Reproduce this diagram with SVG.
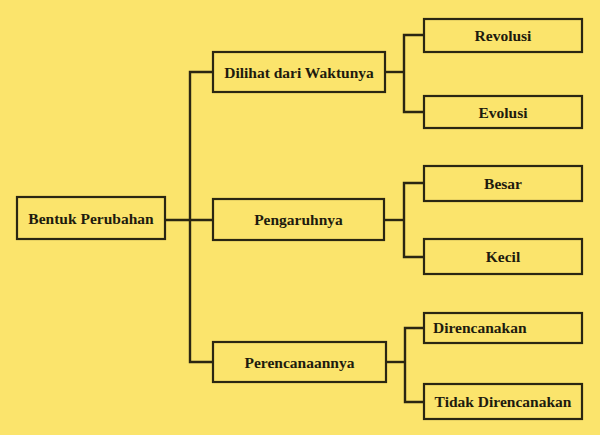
<svg xmlns="http://www.w3.org/2000/svg" width="600" height="435" viewBox="0 0 600 435">
<style>
.box{fill:#FBE46C;stroke:#2a2612;stroke-width:2.2}
.t{font-family:"Liberation Serif","Times New Roman",serif;font-weight:bold;font-size:15.5px;fill:#1e1b0e;text-anchor:middle}
.l{text-anchor:start}
.c{fill:none;stroke:#2a2612;stroke-width:2.4}
</style>
<rect x="0" y="0" width="600" height="435" fill="#FBE46C"/>
<g id="connectors">
<path class="c" d="M165 220 H213"/>
<path class="c" d="M213 72 H190 V362 H213"/>
<path class="c" d="M385 72 H404"/>
<path class="c" d="M424 35 H404 V112 H424"/>
<path class="c" d="M384 220 H404"/>
<path class="c" d="M424 183 H404 V257 H424"/>
<path class="c" d="M386 362 H405"/>
<path class="c" d="M424 328 H405 V402 H424"/>
</g>
<g id="root"><rect class="box" x="17" y="197" width="148" height="42"/><text class="t" x="91" y="223.5">Bentuk Perubahan</text></g>
<g id="dilihat"><rect class="box" x="213" y="52" width="172" height="40"/><text class="t" x="299" y="77.5">Dilihat dari Waktunya</text></g>
<g id="pengaruhnya"><rect class="box" x="213" y="199" width="171" height="41"/><text class="t" x="298.5" y="225">Pengaruhnya</text></g>
<g id="perencanaannya"><rect class="box" x="213" y="342" width="173" height="40"/><text class="t" x="299.5" y="367.5">Perencanaannya</text></g>
<g id="revolusi"><rect class="box" x="424" y="19" width="158" height="33"/><text class="t" x="503" y="41">Revolusi</text></g>
<g id="evolusi"><rect class="box" x="424" y="96" width="158" height="32"/><text class="t" x="503" y="117.5">Evolusi</text></g>
<g id="besar"><rect class="box" x="424" y="166" width="158" height="35"/><text class="t" x="503" y="189">Besar</text></g>
<g id="kecil"><rect class="box" x="424" y="239" width="158" height="35"/><text class="t" x="503" y="262">Kecil</text></g>
<g id="direncanakan"><rect class="box" x="424" y="313" width="158" height="30"/><text class="t l" x="433" y="333">Direncanakan</text></g>
<g id="tidak"><rect class="box" x="424" y="384" width="158" height="35"/><text class="t" x="503" y="407">Tidak Direncanakan</text></g>
</svg>
